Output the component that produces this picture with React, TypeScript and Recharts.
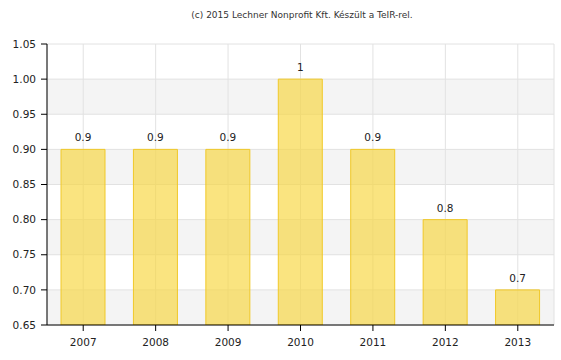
import { Bar, BarChart, CartesianGrid, LabelList, XAxis, YAxis } from 'recharts'

const years = ['2007', '2008', '2009', '2010', '2011', '2012', '2013']
const values = [0.9, 0.9, 0.9, 1, 0.9, 0.8, 0.7]
const yTicks = [0.65, 0.7, 0.75, 0.8, 0.85, 0.9, 0.95, 1.0, 1.05]
const title = '(c) 2015 Lechner Nonprofit Kft. Készült a TeIR-rel.'

const font = 'Verdana, "DejaVu Sans", sans-serif'

export default function App() {
  const data = years.map((y, i) => ({ year: y, value: values[i] }))

  return (
    <div style={{ position: 'absolute', left: 0, top: 0, width: 561, height: 360, background: '#fff', fontFamily: font }}>
      <div style={{ position: 'absolute', top: 9, left: 2, width: 600, textAlign: 'center', fontSize: 9, lineHeight: '12px', color: '#333' }}>
        {title}
      </div>
      <BarChart data={data} width={561} height={360} margin={{ top: 44, right: 7, left: 0, bottom: 0 }} barCategoryGap={14}>
        <CartesianGrid stroke="#e2e2e2" horizontalFill={['#ffffff', '#f4f4f4']} />
        <XAxis
          dataKey="year"
          height={35}
          axisLine={{ stroke: '#000' }}
          tickLine={{ stroke: '#000' }}
          tickSize={6}
          tick={{ fill: '#222', fontSize: 10.5, fontFamily: font }}
          tickMargin={8}
        />
        <YAxis
          width={47}
          domain={[0.65, 1.05]}
          ticks={yTicks}
          tickFormatter={(v: number) => v.toFixed(2)}
          axisLine={{ stroke: '#000' }}
          tickLine={{ stroke: '#000' }}
          tickSize={6}
          tickMargin={5}
          tick={{ fill: '#222', fontSize: 10.5, fontFamily: font }}
          allowDataOverflow
        />
        <Bar dataKey="value" fill="#f8d53c" fillOpacity={0.65} stroke="#f0c828" strokeWidth={1} isAnimationActive={false}>
          <LabelList dataKey="value" position="top" offset={8} style={{ fill: '#222', fontSize: 10.5, fontFamily: font }} />
        </Bar>
      </BarChart>
    </div>
  )
}
